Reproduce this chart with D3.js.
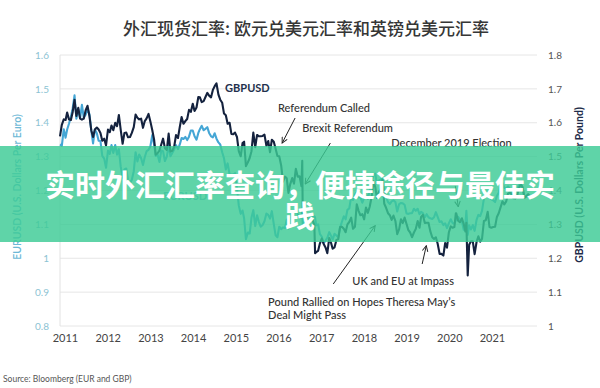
<!DOCTYPE html>
<html><head><meta charset="utf-8">
<script src="https://cdn.jsdelivr.net/npm/d3@7"></script>
<style>body{margin:0;background:#fff}svg{display:block}</style>
</head><body><svg id="c" width="600" height="388"></svg>
<script>
const years = [2011,2012,2013,2014,2015,2016,2017,2018,2019,2020,2021];
const leftTicks = [0.8,0.9,1.0,1.1,1.2,1.3,1.4,1.5,1.6];
const rightTicks = [1.0,1.1,1.2,1.3,1.4,1.5,1.6,1.7,1.8];

const dates = [
"2011-01-01","2011-01-16","2011-02-01","2011-02-16","2011-03-01","2011-03-16","2011-04-01","2011-04-16","2011-05-01","2011-05-16","2011-06-01","2011-06-16","2011-07-01","2011-07-16","2011-08-01","2011-08-16","2011-09-01","2011-09-16","2011-10-01","2011-10-16","2011-11-01","2011-11-16","2011-12-01","2011-12-16",
"2012-01-01","2012-01-16","2012-02-01","2012-02-16","2012-03-01","2012-03-16","2012-04-01","2012-04-16","2012-05-01","2012-05-16","2012-06-01","2012-06-16","2012-07-01","2012-07-16","2012-08-01","2012-08-16","2012-09-01","2012-09-16","2012-10-01","2012-10-16","2012-11-01","2012-11-16","2012-12-01","2012-12-16",
"2013-01-01","2013-01-16","2013-02-01","2013-02-16","2013-03-01","2013-03-16","2013-04-01","2013-04-16","2013-05-01","2013-05-16","2013-06-01","2013-06-16","2013-07-01","2013-07-16","2013-08-01","2013-08-16","2013-09-01","2013-09-16","2013-10-01","2013-10-16","2013-11-01","2013-11-16","2013-12-01","2013-12-16",
"2014-01-01","2014-01-16","2014-02-01","2014-02-16","2014-03-01","2014-03-16","2014-04-01","2014-04-16","2014-05-01","2014-05-16","2014-06-01","2014-06-16","2014-07-01","2014-07-16","2014-08-01","2014-08-16","2014-09-01","2014-09-16","2014-10-01","2014-10-16","2014-11-01","2014-11-16","2014-12-01","2014-12-16",
"2015-01-01","2015-01-16","2015-02-01","2015-02-16","2015-03-01","2015-03-16","2015-04-01","2015-04-16","2015-05-01","2015-05-16","2015-06-01","2015-06-16","2015-07-01","2015-07-16","2015-08-01","2015-08-16","2015-09-01","2015-09-16","2015-10-01","2015-10-16","2015-11-01","2015-11-16","2015-12-01","2015-12-16",
"2016-01-01","2016-01-16","2016-02-01","2016-02-16","2016-03-01","2016-03-16","2016-04-01","2016-04-16","2016-05-01","2016-05-16","2016-06-01","2016-06-16","2016-06-23","2016-06-27","2016-07-01","2016-07-16","2016-08-01","2016-08-16","2016-09-01","2016-09-16","2016-10-01","2016-10-07","2016-10-16","2016-11-01","2016-11-16","2016-12-01","2016-12-16",
"2017-01-01","2017-01-16","2017-02-01","2017-02-16","2017-03-01","2017-03-16","2017-04-01","2017-04-16","2017-05-01","2017-05-16","2017-06-01","2017-06-16","2017-07-01","2017-07-16","2017-08-01","2017-08-16","2017-09-01","2017-09-16","2017-10-01","2017-10-16","2017-11-01","2017-11-16","2017-12-01","2017-12-16",
"2018-01-01","2018-01-16","2018-02-01","2018-02-16","2018-03-01","2018-03-16","2018-04-01","2018-04-16","2018-05-01","2018-05-16","2018-06-01","2018-06-16","2018-07-01","2018-07-16","2018-08-01","2018-08-16","2018-09-01","2018-09-16","2018-10-01","2018-10-16","2018-11-01","2018-11-16","2018-12-01","2018-12-16",
"2019-01-01","2019-01-16","2019-02-01","2019-02-16","2019-03-01","2019-03-16","2019-04-01","2019-04-16","2019-05-01","2019-05-16","2019-06-01","2019-06-16","2019-07-01","2019-07-16","2019-08-01","2019-08-16","2019-09-01","2019-09-16","2019-10-01","2019-10-16","2019-11-01","2019-11-16","2019-12-01","2019-12-13","2019-12-16",
"2020-01-01","2020-01-16","2020-02-01","2020-02-16","2020-03-01","2020-03-09","2020-03-20","2020-04-01","2020-04-16","2020-05-01","2020-05-16","2020-06-01","2020-06-16","2020-07-01","2020-07-16","2020-08-01","2020-08-16","2020-09-01","2020-09-16","2020-10-01","2020-10-16","2020-11-01","2020-11-16","2020-12-01","2020-12-16",
"2021-01-01","2021-01-16","2021-02-01","2021-02-16","2021-03-01","2021-03-16","2021-04-01","2021-04-16","2021-05-01","2021-05-16","2021-06-01","2021-06-16","2021-07-01","2021-07-16","2021-08-01","2021-08-16","2021-09-01"
];

const eurusd = [
1.336,1.332,1.381,1.356,1.380,1.397,1.418,1.443,1.481,1.412,1.440,1.414,1.453,1.416,1.424,1.441,1.425,1.378,1.339,1.380,1.369,1.347,1.346,1.302,
1.294,1.267,1.318,1.308,1.334,1.311,1.334,1.306,1.322,1.271,1.238,1.262,1.265,1.229,1.222,1.232,1.257,1.313,1.286,1.306,1.295,1.275,1.299,1.316,
1.320,1.330,1.364,1.336,1.302,1.307,1.284,1.318,1.316,1.287,1.300,1.334,1.301,1.311,1.322,1.334,1.322,1.336,1.355,1.352,1.358,1.349,1.359,1.377,
1.377,1.360,1.350,1.370,1.381,1.391,1.378,1.382,1.387,1.370,1.360,1.357,1.369,1.353,1.342,1.336,1.313,1.295,1.262,1.280,1.248,1.247,1.247,1.251,
1.208,1.156,1.131,1.141,1.118,1.056,1.076,1.073,1.120,1.142,1.095,1.127,1.107,1.093,1.098,1.109,1.132,1.128,1.117,1.139,1.101,1.068,1.062,1.093,
1.086,1.091,1.089,1.114,1.087,1.111,1.138,1.128,1.146,1.131,1.118,1.121,1.138,1.102,1.106,1.104,1.116,1.130,1.116,1.125,1.124,1.120,1.097,1.100,1.071,1.064,1.044,
1.052,1.060,1.077,1.066,1.055,1.072,1.067,1.062,1.090,1.107,1.124,1.115,1.143,1.147,1.181,1.172,1.188,1.195,1.180,1.180,1.164,1.178,1.190,1.175,
1.201,1.227,1.246,1.250,1.219,1.229,1.232,1.238,1.200,1.181,1.166,1.160,1.168,1.171,1.166,1.138,1.160,1.163,1.162,1.158,1.132,1.131,1.133,1.133,
1.146,1.140,1.146,1.130,1.137,1.133,1.121,1.130,1.121,1.118,1.116,1.121,1.136,1.122,1.107,1.109,1.098,1.103,1.089,1.103,1.115,1.104,1.102,1.112,1.114,
1.122,1.114,1.109,1.084,1.102,1.140,1.069,1.097,1.085,1.098,1.081,1.113,1.128,1.124,1.140,1.177,1.184,1.194,1.184,1.174,1.171,1.166,1.184,1.193,1.219,
1.222,1.208,1.206,1.212,1.206,1.191,1.177,1.197,1.202,1.215,1.222,1.205,1.185,1.181,1.187,1.178,1.187
];

const gbpusd = [
1.560,1.594,1.610,1.608,1.630,1.610,1.608,1.632,1.668,1.620,1.644,1.612,1.609,1.612,1.637,1.650,1.620,1.578,1.558,1.580,1.586,1.580,1.570,1.547,
1.553,1.533,1.580,1.572,1.592,1.578,1.600,1.590,1.623,1.580,1.538,1.570,1.571,1.557,1.558,1.570,1.587,1.624,1.615,1.610,1.612,1.585,1.605,1.613,
1.626,1.604,1.578,1.550,1.506,1.510,1.518,1.536,1.553,1.525,1.520,1.568,1.515,1.517,1.530,1.564,1.555,1.588,1.617,1.597,1.605,1.611,1.638,1.632,
1.656,1.635,1.645,1.676,1.675,1.661,1.664,1.676,1.688,1.680,1.675,1.697,1.708,1.716,1.683,1.668,1.659,1.627,1.622,1.597,1.600,1.567,1.566,1.571,
1.558,1.516,1.501,1.540,1.544,1.472,1.483,1.496,1.516,1.571,1.528,1.564,1.560,1.560,1.561,1.565,1.532,1.546,1.513,1.550,1.544,1.523,1.502,1.501,
1.474,1.426,1.441,1.436,1.393,1.419,1.437,1.420,1.464,1.441,1.442,1.413,1.488,1.322,1.330,1.320,1.320,1.305,1.312,1.314,1.297,1.215,1.218,1.222,1.244,1.258,1.243,
1.232,1.215,1.260,1.245,1.228,1.232,1.254,1.256,1.292,1.293,1.287,1.277,1.300,1.307,1.320,1.287,1.293,1.359,1.340,1.327,1.330,1.315,1.350,1.334,
1.352,1.380,1.427,1.410,1.378,1.395,1.403,1.432,1.361,1.349,1.333,1.327,1.313,1.326,1.310,1.271,1.286,1.315,1.304,1.320,1.301,1.283,1.276,1.262,
1.276,1.286,1.310,1.290,1.322,1.328,1.304,1.305,1.305,1.280,1.262,1.257,1.262,1.243,1.213,1.213,1.208,1.245,1.231,1.276,1.294,1.290,1.292,1.333,1.333,
1.311,1.306,1.318,1.301,1.279,1.305,1.149,1.240,1.250,1.250,1.212,1.248,1.265,1.249,1.257,1.310,1.312,1.337,1.292,1.290,1.292,1.293,1.322,1.333,1.350,
1.368,1.359,1.368,1.391,1.394,1.390,1.378,1.376,1.383,1.406,1.418,1.410,1.378,1.383,1.389,1.383,1.376
];

const parse = d3.timeParse("%Y-%m-%d");
const svg = d3.select("#c");
const latin = "Lato, 'Open Sans', sans-serif";
const cjk = "'Noto Sans CJK SC', sans-serif";

const x = d3.scaleTime().domain([parse("2011-01-01"), parse("2021-09-10")]).range([60, 533]);
const yL = d3.scaleLinear().domain([0.8, 1.6]).range([326, 55]);
const yR = d3.scaleLinear().domain([1.0, 1.8]).range([326, 55]);
const xYear = d3.scalePoint().domain(years).range([65, 492]);

// title
svg.append("text").attr("x", 306).attr("y", 35).attr("text-anchor", "middle")
  .style("font-family", cjk).style("font-size", "17px").style("font-weight", 500)
  .attr("fill", "#363636").text("外汇现货汇率: 欧元兑美元汇率和英镑兑美元汇率");

// grid
svg.append("g").selectAll("line").data(leftTicks).join("line")
  .attr("x1", 60).attr("x2", 537).attr("y1", d => yL(d)).attr("y2", d => yL(d))
  .attr("stroke", "#e6e6e6").attr("stroke-width", 1);
svg.append("line").attr("x1", 60).attr("x2", 60).attr("y1", yL(1.6)).attr("y2", yL(0.8))
  .attr("stroke", "#e2e2e2");

const fmt = d => String(+d.toFixed(1));
const gl = svg.append("g").attr("transform", "translate(50,0)")
  .call(d3.axisLeft(yL).tickValues(leftTicks).tickSize(0).tickPadding(1).tickFormat(fmt));
gl.select(".domain").remove();
gl.selectAll("text").style("font-family", latin).style("font-size", "10px").attr("fill", "#8cc3d3");

const gr = svg.append("g").attr("transform", "translate(547,0)")
  .call(d3.axisRight(yR).tickValues(rightTicks).tickSize(0).tickPadding(1).tickFormat(fmt));
gr.select(".domain").remove();
gr.selectAll("text").style("font-family", latin).style("font-size", "10px").attr("fill", "#555");

const gx = svg.append("g").attr("transform", "translate(0,333)")
  .call(d3.axisBottom(xYear).tickSize(0).tickPadding(1));
gx.select(".domain").remove();
gx.selectAll("text").style("font-family", latin).style("font-size", "11px").attr("fill", "#444");

// axis titles
svg.append("text").attr("transform", "translate(21,187) rotate(-90)").attr("text-anchor", "middle")
  .style("font-family", latin).style("font-size", "10.5px").style("font-weight", 600)
  .attr("fill", "#6db8d6").text("EURUSD (U.S. Dollars Per Euro)");
svg.append("text").attr("transform", "translate(583,185) rotate(-90)").attr("text-anchor", "middle")
  .style("font-family", latin).style("font-size", "10.5px").style("font-weight", 700)
  .attr("fill", "#1e2b48").text("GBPUSD (U.S. Dollars Per Pound)");

// lines
const eurData = dates.map((d, i) => ({ d: parse(d), v: eurusd[i] }));
const gbpData = dates.map((d, i) => ({ d: parse(d), v: gbpusd[i] }));
svg.append("path").datum(eurData)
  .attr("d", d3.line().x(p => x(p.d)).y(p => yL(p.v)))
  .attr("fill", "none").attr("stroke", "#45a6d5").attr("stroke-width", 2.1).attr("stroke-linejoin", "round");
svg.append("path").datum(gbpData)
  .attr("d", d3.line().x(p => x(p.d)).y(p => yR(p.v)))
  .attr("fill", "none").attr("stroke", "#14223e").attr("stroke-width", 2.1).attr("stroke-linejoin", "round");

// annotations (positioned in data space: date + GBPUSD value)
const P = (ds, v) => [x(parse(ds)), yR(v)];
const defs = svg.append("defs");
defs.append("marker").attr("id", "ah").attr("viewBox", "0 0 10 10").attr("refX", 9).attr("refY", 5)
  .attr("markerWidth", 7).attr("markerHeight", 7).attr("markerUnits", "userSpaceOnUse").attr("orient", "auto")
  .append("path").attr("d", "M1,1 L9,5 L1,9").attr("fill", "none").attr("stroke", "#222").attr("stroke-width", 1.4);

const labels = [
  { t: "GBPUSD", at: P("2014-09-25", 1.691), w: 700, c: "#22304c" },
  { t: "Referendum Called", at: P("2015-12-06", 1.632), w: 500, c: "#333" },
  { t: "Brexit Referendum", at: P("2016-06-23", 1.573), w: 500, c: "#333" },
  { t: "December 2019 Election", at: P("2018-06-28", 1.529), w: 500, c: "#333" },
  { t: "EURUSD", at: [x(parse("2013-05-01")), yL(1.172)], w: 700, c: "#6fb6d6" },
  { t: "UK and EU at Impass", at: P("2017-08-10", 1.122), w: 500, c: "#333" },
  { t: "Pound Rallied on Hopes Theresa May\u2019s", at: P("2015-09-15", 1.060), w: 500, c: "#333" },
  { t: "Deal Might Pass", at: P("2015-09-15", 1.021), w: 500, c: "#333" }
];
svg.append("g").selectAll("text").data(labels).join("text")
  .attr("x", d => d.at[0]).attr("y", d => d.at[1]).text(d => d.t)
  .style("font-family", latin).style("font-size", "11px").style("font-weight", d => d.w).attr("fill", d => d.c);

const arrows = [
  [P("2016-04-25", 1.614), P("2016-01-09", 1.540)],
  [P("2017-02-10", 1.540), P("2016-07-17", 1.419)],
  [P("2019-12-08", 1.414), P("2020-01-02", 1.352)],
  [P("2019-03-10", 1.183), P("2019-04-13", 1.237)],
  [P("2017-03-06", 1.124), P("2018-02-15", 1.296)]
];
svg.append("g").selectAll("line").data(arrows).join("line")
  .attr("x1", d => d[0][0]).attr("y1", d => d[0][1]).attr("x2", d => d[1][0]).attr("y2", d => d[1][1])
  .attr("stroke", "#222").attr("stroke-width", 1).attr("marker-end", "url(#ah)");

// source
svg.append("text").attr("x", 3).attr("y", 382).style("font-family", latin).style("font-size", "8.5px")
  .attr("fill", "#555").text("Source: Bloomberg (EUR and GBP)");

// overlay banner
svg.append("rect").attr("x", 0).attr("y", 146).attr("width", 600).attr("height", 96)
  .attr("fill", "#3ccb95").attr("opacity", 0.82);
const bt = svg.append("text").attr("text-anchor", "middle").style("font-family", cjk)
  .style("font-size", "30px").style("font-weight", 700).attr("fill", "#fff");
bt.append("tspan").attr("x", 300).attr("y", 196).text("实时外汇汇率查询，便捷途径与最佳实");
bt.append("tspan").attr("x", 300).attr("y", 227).text("践");
</script></body></html>
